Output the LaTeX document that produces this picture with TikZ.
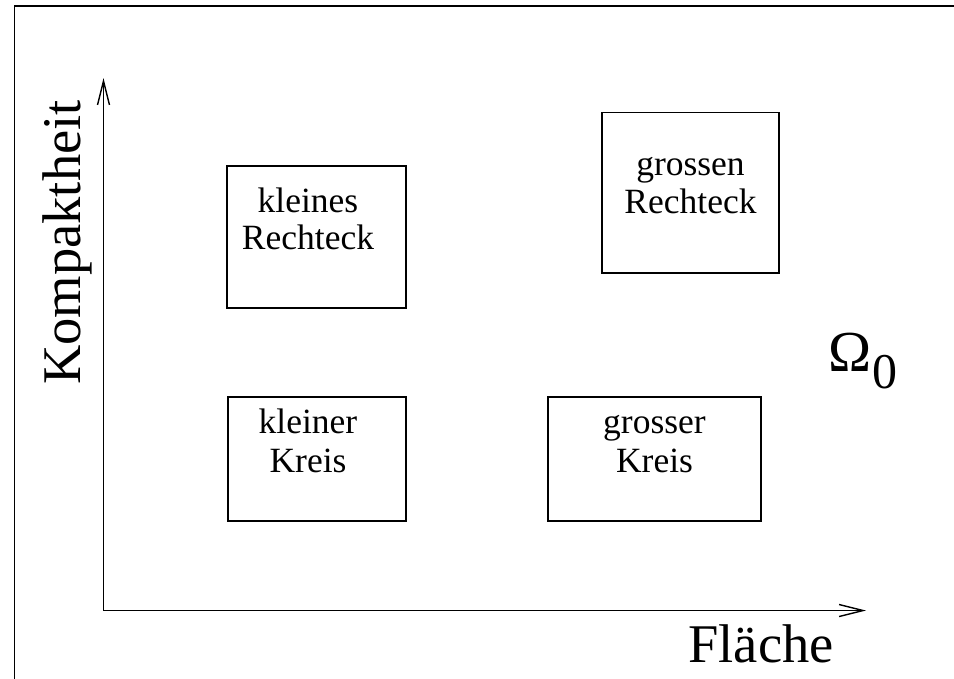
\documentclass[tikz,border=0pt]{standalone}
\usepackage{fontspec}
\setmainfont{Liberation Serif}
\usetikzlibrary{arrows.meta}
\begin{document}
\begin{tikzpicture}[x=1pt,y=-1pt,
  box/.style={draw,line width=1.7pt,inner sep=0pt,outer sep=0pt},
  lbl/.style={font=\fontsize{35.5}{38}\selectfont,anchor=base,inner sep=0pt},
  axis/.style={line width=1.4pt,-{Straight Barb[length=24pt,width=12pt,line width=1.4pt]}},
  big/.style={font=\fontsize{54.5}{60}\selectfont,inner sep=0pt,anchor=base}]
\useasboundingbox (0,0) rectangle (954,678);
\clip (0,0) rectangle (954,678);
\fill[white] (0,0) rectangle (954,678);
% frame
\draw[line width=1.7pt] (14.5,700) -- (14.5,5.7) -- (980,5.7);
% boxes
\node[box,minimum width=178.4pt,minimum height=142.3pt] (kr) at (316.5,236.9) {};
\node[box,minimum width=177pt,minimum height=160.7pt] (gr) at (690.5,192.7) {};
\node[box,minimum width=177.7pt,minimum height=124.3pt] (kk) at (316.9,458.9) {};
\node[box,minimum width=213pt,minimum height=124.3pt] (gk) at (654.5,458.9) {};
% box texts
\node[lbl] (kr1) at (308,212) {kleines};
\node[lbl] (kr2) at (308,249.5) {Rechteck};
\node[lbl] (gr1) at (690.5,175) {grossen};
\node[lbl] (gr2) at (690.5,213) {Rechteck};
\node[lbl] (kk1) at (308,433) {kleiner};
\node[lbl] (kk2) at (308,472) {Kreis};
\node[lbl] (gk1) at (654.5,433) {grosser};
\node[lbl] (gk2) at (654.5,472) {Kreis};
% axes
\coordinate (o) at (103.5,610.5);
\coordinate (ytip) at (103.5,78);
\coordinate (xtip) at (866,610.5);
\draw[axis] (o) -- (ytip);
\draw[axis] (o) -- (xtip);
\node[big,rotate=90] (ylab) at (80,242.5) {Kompaktheit};
\node[big] (xlab) at (761,662) {Fläche};
\node[inner sep=0pt,anchor=base west,font=\fontsize{58}{64}\selectfont] (omega) at (828,371) {Ω\hspace{1pt}\raisebox{-17pt}{\fontsize{50}{60}\selectfont 0}};
\end{tikzpicture}
\end{document}
